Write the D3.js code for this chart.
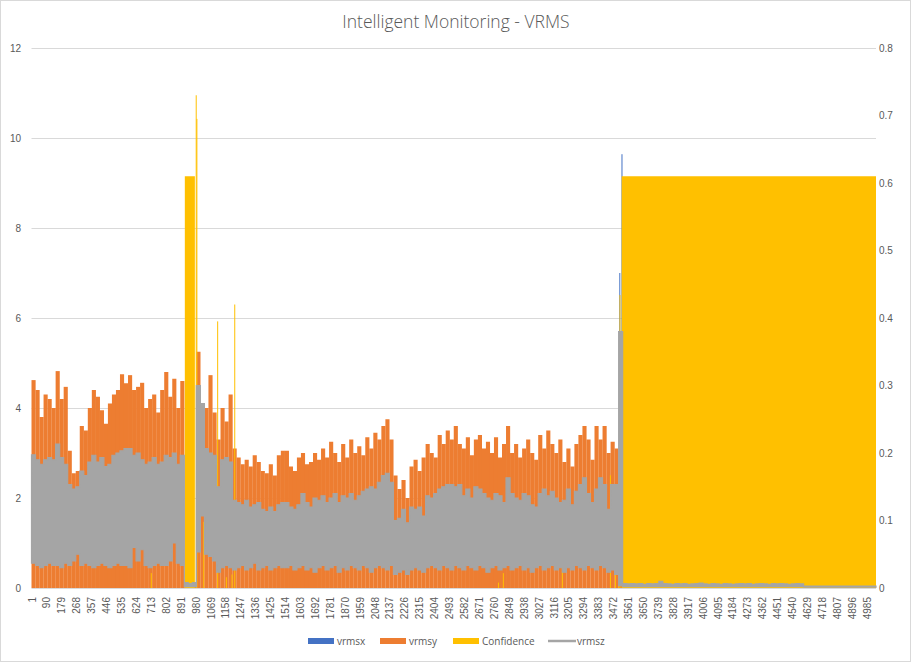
<!DOCTYPE html>
<html>
<head>
<meta charset="utf-8">
<script src="https://cdn.jsdelivr.net/npm/d3@7"></script>
<style>
  body { margin: 0; background: #fff; }
  #chart svg { display: block; font-family: "Open Sans", "Liberation Sans", sans-serif; }
</style>
</head>
<body>
<div id="chart"></div>
<script>
// 5040 samples on the x axis, readings are grouped in bins of 24 samples
const nCategories = 5040;
const binSize = 24;

const xTickLabels = [1, 90, 179, 268, 357, 446, 535, 624, 713, 802, 891, 980, 1069, 1158, 1247,
  1336, 1425, 1514, 1603, 1692, 1781, 1870, 1959, 2048, 2137, 2226, 2315, 2404, 2493, 2582,
  2671, 2760, 2849, 2938, 3027, 3116, 3205, 3294, 3383, 3472, 3561, 3650, 3739, 3828, 3917,
  4006, 4095, 4184, 4273, 4362, 4451, 4540, 4629, 4718, 4807, 4896, 4985];
const leftTicks = [0, 2, 4, 6, 8, 10, 12];
const rightTicks = [0, 0.1, 0.2, 0.3, 0.4, 0.5, 0.6, 0.7, 0.8];

// vrmsy: highest column in each bin
const vrmsyBinMax = [
  4.62, 4.4, 3.8, 4.3, 4.2, 4.0, 4.82, 4.2, 4.47, 3.05,
  2.55, 2.6, 3.6, 3.5, 4.0, 4.4, 4.25, 3.95, 3.65, 4.1,
  4.3, 4.4, 4.75, 4.55, 4.73, 4.4, 4.47, 4.56, 4.0, 4.2,
  4.3, 3.9, 4.4, 4.8, 4.25, 4.65, 4.0, 4.6, 0.1, 0.1,
  0.1, 5.25, 4.1, 4.0, 4.73, 3.9, 3.3, 4.0, 3.7, 4.3,
  3.1, 2.9, 2.75, 2.85, 2.7, 2.95, 2.8, 2.6, 2.55, 2.75,
  2.5, 2.95, 3.05, 3.05, 2.7, 2.6, 2.9, 3.0, 2.75, 2.8,
  3.0, 2.85, 3.1, 2.9, 3.25, 3.0, 2.8, 3.2, 2.9, 3.3,
  3.0, 3.15, 2.95, 3.35, 3.1, 3.45, 3.3, 3.6, 3.75, 3.3,
  2.5, 2.2, 2.4, 2.0, 2.7, 2.85, 2.6, 2.9, 3.2, 3.0,
  2.9, 3.4, 3.2, 3.5, 3.3, 3.6, 3.2, 3.1, 3.35, 2.95,
  3.3, 3.4, 3.1, 3.25, 3.0, 3.35, 2.9, 3.2, 3.6, 3.0,
  3.2, 2.9, 3.1, 3.3, 3.0, 2.85, 3.4, 3.1, 3.5, 3.2,
  3.0, 3.3, 2.8, 3.1, 2.7, 3.2, 3.4, 3.6, 3.3, 2.85,
  3.6, 3.3, 3.6, 3.0, 3.25, 3.1, 2.8, 0.08, 0.07, 0.08,
  0.07, 0.08, 0.06, 0.08, 0.07, 0.08, 0.09, 0.07, 0.08, 0.06,
  0.08, 0.07, 0.08, 0.06, 0.07, 0.08, 0.08, 0.07, 0.06, 0.08,
  0.07, 0.06, 0.08, 0.07, 0.06, 0.07, 0.08, 0.07, 0.08, 0.06,
  0.07, 0.08, 0.07, 0.06, 0.08, 0.07, 0.08, 0.07, 0.06, 0.07,
  0.08, 0.07, 0.04, 0.04, 0.03, 0.04, 0.04, 0.03, 0.04, 0.04,
  0.03, 0.04, 0.04, 0.03, 0.04, 0.04, 0.03, 0.04, 0.04, 0.03
];

// vrmsz: top and bottom of the line in each bin
const vrmszBinHigh = [
  2.96, 2.85, 2.75, 2.85, 2.9, 2.85, 3.2, 2.9, 2.75, 2.3,
  2.2, 2.25, 2.6, 2.5, 2.8, 2.95, 2.8, 2.9, 2.7, 2.75,
  2.95, 3.0, 3.05, 3.1, 3.1, 2.95, 3.0, 2.85, 2.75, 2.8,
  2.9, 2.75, 2.8, 2.95, 2.9, 3.0, 2.75, 2.95, 0.12, 0.1,
  0.12, 4.5, 4.1, 3.1, 3.0, 2.95, 2.25, 2.85, 2.9, 2.8,
  1.95, 1.9, 1.85, 1.95, 1.8, 1.85, 1.9, 1.75, 1.7, 1.8,
  1.7, 1.85, 1.9, 1.9, 1.8, 1.75, 1.85, 2.1, 1.9, 1.8,
  2.0, 1.95, 2.05, 1.9, 2.0, 2.1, 1.9, 2.05, 2.0, 2.1,
  1.95, 2.05, 2.15, 2.2, 2.25, 2.2, 2.35, 2.5, 2.55, 2.35,
  1.5, 1.55, 1.75, 1.45, 1.8, 1.75, 1.8, 1.6, 2.05, 2.0,
  2.1, 2.2, 2.25, 2.3, 2.3, 2.25, 2.3, 2.05, 2.2, 2.0,
  2.25, 2.2, 2.1, 2.0, 1.95, 2.1, 2.05, 1.9, 2.45, 2.1,
  2.0, 1.95, 2.1, 2.05, 1.85, 1.8, 2.1, 2.2, 2.05, 2.15,
  2.0, 1.9, 1.95, 2.2, 1.85, 2.15, 2.3, 2.45, 2.1, 1.9,
  2.2, 2.45, 2.3, 1.75, 2.3, 2.3, 5.7, 0.1, 0.09, 0.1,
  0.09, 0.1, 0.08, 0.1, 0.09, 0.1, 0.15, 0.1, 0.09, 0.08,
  0.1, 0.09, 0.1, 0.08, 0.09, 0.1, 0.11, 0.09, 0.08, 0.1,
  0.09, 0.08, 0.1, 0.09, 0.08, 0.09, 0.1, 0.09, 0.1, 0.08,
  0.09, 0.1, 0.09, 0.08, 0.1, 0.09, 0.1, 0.09, 0.08, 0.09,
  0.1, 0.09, 0.04, 0.04, 0.04, 0.04, 0.04, 0.04, 0.04, 0.04,
  0.04, 0.04, 0.04, 0.04, 0.04, 0.04, 0.04, 0.04, 0.04, 0.04
];
const vrmszBinLow = [
  0.55, 0.5, 0.45, 0.5, 0.55, 0.5, 0.5, 0.45, 0.55, 0.5,
  0.6, 0.75, 0.5, 0.55, 0.5, 0.45, 0.5, 0.55, 0.5, 0.45,
  0.5, 0.55, 0.5, 0.5, 0.45, 0.9, 0.6, 0.85, 0.5, 0.45,
  0.5, 0.55, 0.5, 0.5, 0.6, 1.0, 0.55, 0.5, 0.03, 0.03,
  0.03, 0.8, 1.6, 0.75, 0.7, 0.6, 0.35, 0.45, 0.5, 0.45,
  0.4, 0.45, 0.5, 0.4, 0.45, 0.55, 0.4, 0.45, 0.5, 0.4,
  0.45, 0.5, 0.45, 0.45, 0.5, 0.4, 0.45, 0.5, 0.4, 0.45,
  0.35, 0.45, 0.5, 0.4, 0.45, 0.5, 0.35, 0.45, 0.4, 0.5,
  0.45, 0.4, 0.5, 0.45, 0.35, 0.45, 0.5, 0.45, 0.4, 0.5,
  0.3, 0.35, 0.4, 0.3, 0.4, 0.45, 0.4, 0.35, 0.45, 0.5,
  0.45, 0.4, 0.5, 0.45, 0.4, 0.5, 0.45, 0.4, 0.5, 0.45,
  0.4, 0.5, 0.45, 0.35, 0.45, 0.5, 0.4, 0.45, 0.5, 0.4,
  0.45, 0.5, 0.4, 0.45, 0.35, 0.45, 0.5, 0.4, 0.45, 0.5,
  0.4, 0.45, 0.35, 0.45, 0.4, 0.5, 0.45, 0.4, 0.5, 0.45,
  0.4, 0.5, 0.45, 0.35, 0.4, 0.3, 0.05, 0.03, 0.03, 0.03,
  0.03, 0.03, 0.03, 0.03, 0.03, 0.03, 0.03, 0.03, 0.03, 0.03,
  0.03, 0.03, 0.03, 0.03, 0.03, 0.03, 0.03, 0.03, 0.03, 0.03,
  0.03, 0.03, 0.03, 0.03, 0.03, 0.03, 0.03, 0.03, 0.03, 0.03,
  0.03, 0.03, 0.03, 0.03, 0.03, 0.03, 0.03, 0.03, 0.03, 0.03,
  0.03, 0.03, 0.02, 0.02, 0.02, 0.02, 0.02, 0.02, 0.02, 0.02,
  0.02, 0.02, 0.02, 0.02, 0.02, 0.02, 0.02, 0.02, 0.02, 0.02
];

// vrmsx only shows where it rises above the others
const vrmsxCat = [3509, 3522];
const vrmsxValue = [7.0, 9.64];

// Confidence (secondary axis): runs of samples with the same value
const confStart = [713, 916, 981, 985, 1026, 1109, 1161, 1195, 1211, 2785, 2814, 3166, 3453, 3483, 3502, 3510, 3523];
const confEnd   = [713, 975, 981, 985, 1026, 1109, 1161, 1195, 1211, 2785, 2814, 3166, 3453, 3483, 3502, 3510, 5040];
const confValue = [0.022, 0.61, 0.73, 0.695, 0.098, 0.395, 0.016, 0.02, 0.42, 0.008, 0.022, 0.127, 0.167, 0.03, 0.037, 0.434, 0.61];

const colors = { vrmsx: '#4472c4', vrmsy: '#ed7d31', conf: '#ffc000', vrmsz: '#a5a5a5' };
const textColor = '#595959';

const svgWidth = 911, svgHeight = 662;
const plot = { left: 31.5, right: 876, top: 48, bottom: 588 };

const x = d3.scaleLinear().domain([0.5, nCategories + 0.5]).range([plot.left, plot.right]);
const yLeft = d3.scaleLinear().domain([0, 12]).range([plot.bottom, plot.top]);
const yRight = d3.scaleLinear().domain([0, 0.8]).range([plot.bottom, plot.top]);

const bins = vrmsyBinMax.map((v, k) => ({
  c0: k * binSize + 0.5,
  c1: Math.min((k + 1) * binSize, nCategories) + 0.5,
  y: v,
  hi: vrmszBinHigh[k],
  lo: vrmszBinLow[k]
}));

const svg = d3.select('#chart').append('svg')
  .attr('width', svgWidth)
  .attr('height', svgHeight);

svg.append('rect')
  .attr('x', 0.5).attr('y', 0.5)
  .attr('width', svgWidth - 1).attr('height', svgHeight - 1)
  .attr('fill', '#fff')
  .attr('stroke', '#d9d9d9');

svg.append('text')
  .attr('x', 456).attr('y', 28)
  .attr('text-anchor', 'middle')
  .attr('fill', textColor)
  .style('font-size', '17.5px')
  .style('font-weight', 300)
  .text('Intelligent Monitoring - VRMS');

// gridlines
svg.append('g')
  .selectAll('line')
  .data(leftTicks)
  .enter()
  .append('line')
  .attr('x1', plot.left).attr('x2', plot.right)
  .attr('y1', d => Math.round(yLeft(d)) + 0.5)
  .attr('y2', d => Math.round(yLeft(d)) + 0.5)
  .attr('stroke', '#d9d9d9');

// left axis
const leftAxis = svg.append('g')
  .attr('transform', `translate(${plot.left - 10.5}, 0)`)
  .call(d3.axisLeft(yLeft).tickValues(leftTicks).tickSize(0).tickPadding(0));
leftAxis.select('.domain').remove();
leftAxis.selectAll('text').attr('fill', textColor).style('font-size', '10px');

// right axis
const rightAxis = svg.append('g')
  .attr('transform', `translate(${plot.right + 3}, 0)`)
  .call(d3.axisRight(yRight).tickValues(rightTicks).tickSize(0).tickPadding(0)
    .tickFormat(d => d === 0 ? '0' : d3.format('.1f')(d)));
rightAxis.select('.domain').remove();
rightAxis.selectAll('text').attr('fill', textColor).style('font-size', '10px');

// bottom axis
const bottomAxis = svg.append('g')
  .attr('transform', `translate(0, ${plot.bottom})`)
  .call(d3.axisBottom(x).tickValues(xTickLabels).tickSize(0).tickFormat(d => d));
bottomAxis.select('.domain').remove();
bottomAxis.selectAll('text')
  .attr('fill', textColor)
  .style('font-size', '10px')
  .attr('text-anchor', 'end')
  .attr('transform', 'rotate(-90)')
  .attr('x', -9)
  .attr('y', 0)
  .attr('dy', '0.35em');

const marks = svg.append('g');

// vrmsx columns
marks.selectAll('.vrmsx')
  .data(vrmsxCat)
  .enter()
  .append('rect')
  .attr('x', d => x(d - 0.5))
  .attr('width', 1)
  .attr('y', (d, i) => yLeft(vrmsxValue[i]))
  .attr('height', (d, i) => yLeft(0) - yLeft(vrmsxValue[i]))
  .attr('fill', colors.vrmsx);

// vrmsy columns
marks.selectAll('.vrmsy')
  .data(bins)
  .enter()
  .append('rect')
  .attr('x', d => x(d.c0))
  .attr('width', d => x(d.c1) - x(d.c0) + 0.1)
  .attr('y', d => yLeft(d.y))
  .attr('height', d => yLeft(0) - yLeft(d.y))
  .attr('fill', colors.vrmsy);

// Confidence columns on the secondary axis
marks.selectAll('.conf')
  .data(confStart)
  .enter()
  .append('rect')
  .attr('x', d => x(d - 0.5))
  .attr('width', (d, i) => Math.max(1, x(confEnd[i] + 0.5) - x(d - 0.5)))
  .attr('y', (d, i) => yRight(confValue[i]))
  .attr('height', (d, i) => yRight(0) - yRight(confValue[i]))
  .attr('fill', colors.conf);

// vrmsz dense line, drawn as its envelope
const zPoints = bins.map(b => ({ c: b.c0, hi: b.hi, lo: b.lo }));
const last = bins[bins.length - 1];
zPoints.push({ c: last.c1, hi: last.hi, lo: last.lo });

marks.append('path')
  .datum(zPoints)
  .attr('fill', colors.vrmsz)
  .attr('stroke', colors.vrmsz)
  .attr('stroke-width', 1.2)
  .attr('d', d3.area()
    .x(d => x(d.c))
    .y0(d => yLeft(d.lo))
    .y1(d => yLeft(d.hi))
    .curve(d3.curveStepAfter));

// legend
const legendItems = [
  { name: 'vrmsx', color: colors.vrmsx, x: 308, type: 'rect' },
  { name: 'vrmsy', color: colors.vrmsy, x: 380, type: 'rect' },
  { name: 'Confidence', color: colors.conf, x: 453, type: 'rect' },
  { name: 'vrmsz', color: colors.vrmsz, x: 548, type: 'line' }
];
const legend = svg.append('g').attr('transform', 'translate(0, 641)');
legendItems.forEach(item => {
  if (item.type === 'rect') {
    legend.append('rect')
      .attr('x', item.x).attr('y', -3)
      .attr('width', 26).attr('height', 6)
      .attr('fill', item.color);
  } else {
    legend.append('line')
      .attr('x1', item.x).attr('x2', item.x + 28)
      .attr('y1', 0).attr('y2', 0)
      .attr('stroke', item.color)
      .attr('stroke-width', 2.5);
  }
  legend.append('text')
    .attr('x', item.x + 29)
    .attr('y', 0)
    .attr('dy', '0.35em')
    .attr('fill', textColor)
    .style('font-size', '10px')
    .text(item.name);
});
</script>
</body>
</html>
